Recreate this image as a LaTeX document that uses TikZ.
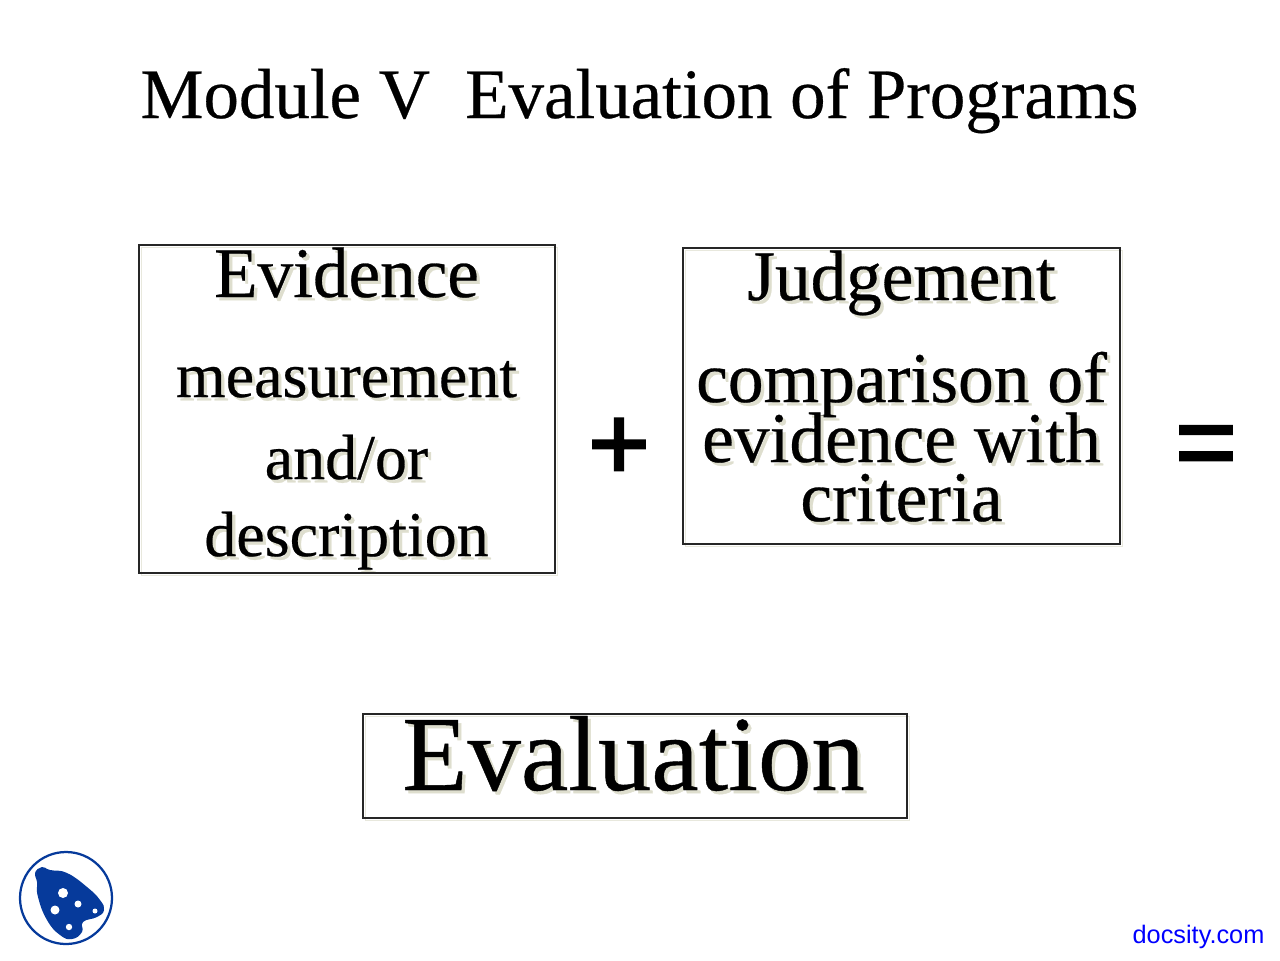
\documentclass[tikz,border=0pt]{standalone}
\usepackage{fontspec}
\setmainfont[FakeBold=0.4]{Liberation Serif}
\newfontfamily\arialfont{Liberation Sans}
\newfontfamily\signfont[FakeBold=2.5]{Liberation Sans}
\usepackage{xcolor}
\usetikzlibrary{positioning}
\definecolor{shadowgray}{HTML}{DEDECE}
\definecolor{logoblue}{HTML}{063A9B}
\newcommand{\shadowed}[1]{\leavevmode\rlap{\hspace{2.3pt}\raisebox{-2.3pt}{\textcolor{shadowgray}{#1}}}#1}
\tikzstyle{framebox} = [rectangle, draw=black!85, line width=0.85pt, inner sep=0pt]
\tikzstyle{frameshadow} = [rectangle, draw=shadowgray!70, line width=0.8pt, inner sep=0pt]
\tikzstyle{headline} = [inner sep=0pt, text height=42pt, text depth=12pt, font=\fontsize{50.6}{50.6}\selectfont]
\tikzstyle{bodyline} = [inner sep=0pt, text height=42pt, text depth=12pt, font=\fontsize{45.5}{45.5}\selectfont]
\tikzstyle{bigline} = [inner sep=0pt, text height=42pt, text depth=12pt, font=\fontsize{50.8}{50.8}\selectfont]
\tikzstyle{signmark} = [inner sep=0pt, font=\signfont\fontsize{75}{75}\selectfont]

\begin{document}
\begin{tikzpicture}[x=0.025cm,y=-0.025cm]
	\useasboundingbox (0,0) rectangle (1280,960);
	\node (title) [anchor=base, font=\fontsize{50.4}{50.4}\selectfont, inner sep=0pt] at (639.5,118) {Module V\ \ Evaluation of Programs};
	%left box
	\node (evidshadow) [frameshadow, minimum width=10.4cm, minimum height=8.2cm] at (349.5,411.5) {};
	\node (evid) [headline, anchor=base] at (346.5,297) {\shadowed{Evidence}};
	\node (meas) [bodyline, below of=evid, node distance=2.5cm] {\shadowed{measurement}};
	\node (andor) [bodyline, below of=meas, node distance=2.05cm] {\shadowed{and/or}};
	\node (descr) [bodyline, below of=andor, node distance=1.925cm] {\shadowed{description}};
	\node (evidbox) [framebox, minimum width=10.4cm, minimum height=8.2cm] at (347,409) {};
	%right box
	\node (judgeshadow) [frameshadow, minimum width=10.925cm, minimum height=7.4cm] at (904,398.5) {};
	\node (judge) [headline, anchor=base] at (901.5,300) {\shadowed{Judgement}};
	\node (compar) [bigline, below of=judge, node distance=2.55cm] {\shadowed{comparison of}};
	\node (evwith) [bigline, below of=compar, node distance=1.5cm] {\shadowed{evidence with}};
	\node (crit) [bigline, below of=evwith, node distance=1.475cm] {\shadowed{criteria}};
	\node (judgebox) [framebox, minimum width=10.925cm, minimum height=7.4cm] at (901.5,396) {};
	%signs
	\node (plus) [signmark] at (619,449) {+};
	\node (equal) [signmark] at (1206,452) {=};
	%result
	\node (evalshadow) [frameshadow, minimum width=13.6cm, minimum height=2.6cm] at (637.5,768.5) {};
	\node (eval) [anchor=base, inner sep=0pt, font=\fontsize{75.9}{75.9}\selectfont] at (633.5,790) {\shadowed{Evaluation}};
	\node (evalbox) [framebox, minimum width=13.6cm, minimum height=2.6cm] at (635,766) {};
	%logo
	\draw[logoblue, line width=1.6pt] (66,898) circle [x radius=46, y radius=46];
	\fill[logoblue] plot[smooth cycle, tension=0.8] coordinates {(35,873) (42,867) (50,870) (67,873) (87,887) (100,900) (104,910) (97,917) (83,922) (82,932) (72,939) (60,935) (47,920) (38,897) (37,882)};
	\fill[white] (63,893) circle [radius=5];
	\fill[white] (55,910) circle [radius=4.5];
	\fill[white] (78,904) circle [radius=3.5];
	\fill[white] (95,911) circle [radius=2.5];
	\fill[white] (69,927) circle [radius=3.2];
	\node (site) [anchor=base, inner sep=0pt, text=blue, font=\arialfont\fontsize{18}{18}\selectfont] at (1198.5,943) {docsity.com};
\end{tikzpicture}
\end{document}
